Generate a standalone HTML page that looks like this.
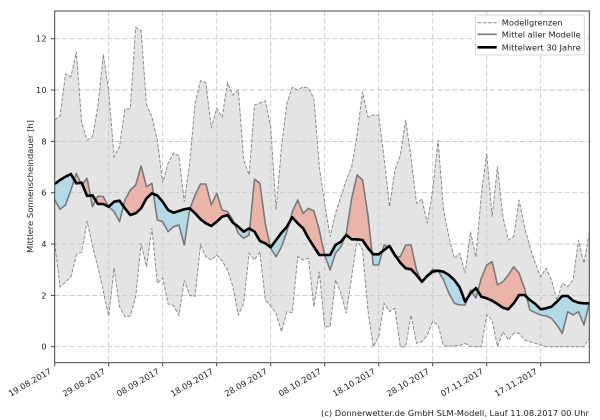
<!DOCTYPE html>
<html><head><meta charset="utf-8">
<style>
html,body{margin:0;padding:0;background:#fff;}
svg{display:block;}
text{font-family:"DejaVu Sans","Liberation Sans",sans-serif;fill:#222;}
</style></head>
<body>
<svg width="600" height="420" viewBox="0 0 600 420" xmlns="http://www.w3.org/2000/svg">
<defs>
<clipPath id="aboveL"><polygon points="54.7,243 60.1,287 65.5,282 70.9,277 76.3,255 81.7,252 87.1,221 92.5,246 97.9,267 103.3,291 108.7,316 114.1,268 119.5,306.7 124.9,316.7 130.3,316 135.7,297 141.1,243.3 146.5,266.7 151.9,228 157.3,283.3 162.7,278 168.1,304 173.5,305.5 178.9,315.5 184.3,280.3 189.7,295.5 195.1,296.3 200.5,245 205.9,256.7 211.3,260 216.7,255 222.1,260.7 227.5,270 232.9,286.7 238.3,315 243.7,303.3 249.1,253.3 254.5,260 259.9,251.7 265.3,300 270.7,306 276.1,313.3 281.5,331.7 286.9,311.7 292.3,312.7 297.7,256.7 303.1,260 308.5,258.3 313.9,306.7 319.3,271.7 324.7,326.7 330.1,326.7 335.5,280 340.9,293.3 346.3,313.3 351.7,276.7 357.1,240 362.5,250 367.9,310 373.3,346.7 378.7,336.7 384.1,303.3 389.5,311.7 394.9,308.3 400.3,346.7 405.7,346.7 411.1,315 416.5,343.3 421.9,341.7 427.3,335 432.7,321.7 438.1,325 443.5,346 448.9,346 454.3,346 459.7,345.5 465.1,343.3 470.5,346.5 475.9,346.7 481.3,346.7 486.7,315 492.1,320 497.5,346.7 502.9,331.7 508.3,340 513.7,333.3 519.1,333.3 524.5,340 529.9,341.7 535.3,343.3 540.7,345 546.1,346.7 551.5,346.7 556.9,346.7 562.3,346.7 567.7,346.7 573.1,346.7 578.5,346.7 583.9,346.7 589.3,338.3 589.3,0 54.7,0"/></clipPath>
<clipPath id="aboveB"><polygon points="54.7,184 60.1,180 65.5,176.7 70.9,174 76.3,183.3 81.7,182.7 87.1,196 92.5,195.3 97.9,204 103.3,204 108.7,206.7 114.1,201.7 119.5,200.7 124.9,208.3 130.3,215 135.7,213.3 141.1,208.3 146.5,198.3 151.9,193.3 157.3,195.5 162.7,201.7 168.1,210 173.5,212.7 178.9,211 184.3,209.3 189.7,208.3 195.1,213.3 200.5,219.3 205.9,223.3 211.3,226 216.7,221.7 222.1,216.7 227.5,215 232.9,222.7 238.3,226.7 243.7,231.7 249.1,228.3 254.5,231.7 259.9,241 265.3,243.3 270.7,247.3 276.1,240 281.5,232.7 286.9,226.7 292.3,217.3 297.7,223.3 303.1,228.3 308.5,238.3 313.9,246.7 319.3,255 324.7,255 330.1,255 335.5,245 340.9,241.7 346.3,235 351.7,239.3 357.1,239.3 362.5,240 367.9,248 373.3,254.3 378.7,254.3 384.1,250 389.5,246 394.9,255 400.3,262.7 405.7,268.3 411.1,269.3 416.5,275 421.9,281.7 427.3,276 432.7,271.7 438.1,270.7 443.5,271.7 448.9,275 454.3,280 459.7,287.3 465.1,301.7 470.5,293.3 475.9,288 481.3,296.7 486.7,298.3 492.1,300.7 497.5,304 502.9,307.7 508.3,309.3 513.7,303.3 519.1,295 524.5,295 529.9,300 535.3,304 540.7,309.3 546.1,308.3 551.5,306.7 556.9,301.7 562.3,296 567.7,296 573.1,300.7 578.5,302.7 583.9,303.3 589.3,303.3 589.3,0 54.7,0"/></clipPath>
<clipPath id="belowB"><polygon points="54.7,184 60.1,180 65.5,176.7 70.9,174 76.3,183.3 81.7,182.7 87.1,196 92.5,195.3 97.9,204 103.3,204 108.7,206.7 114.1,201.7 119.5,200.7 124.9,208.3 130.3,215 135.7,213.3 141.1,208.3 146.5,198.3 151.9,193.3 157.3,195.5 162.7,201.7 168.1,210 173.5,212.7 178.9,211 184.3,209.3 189.7,208.3 195.1,213.3 200.5,219.3 205.9,223.3 211.3,226 216.7,221.7 222.1,216.7 227.5,215 232.9,222.7 238.3,226.7 243.7,231.7 249.1,228.3 254.5,231.7 259.9,241 265.3,243.3 270.7,247.3 276.1,240 281.5,232.7 286.9,226.7 292.3,217.3 297.7,223.3 303.1,228.3 308.5,238.3 313.9,246.7 319.3,255 324.7,255 330.1,255 335.5,245 340.9,241.7 346.3,235 351.7,239.3 357.1,239.3 362.5,240 367.9,248 373.3,254.3 378.7,254.3 384.1,250 389.5,246 394.9,255 400.3,262.7 405.7,268.3 411.1,269.3 416.5,275 421.9,281.7 427.3,276 432.7,271.7 438.1,270.7 443.5,271.7 448.9,275 454.3,280 459.7,287.3 465.1,301.7 470.5,293.3 475.9,288 481.3,296.7 486.7,298.3 492.1,300.7 497.5,304 502.9,307.7 508.3,309.3 513.7,303.3 519.1,295 524.5,295 529.9,300 535.3,304 540.7,309.3 546.1,308.3 551.5,306.7 556.9,301.7 562.3,296 567.7,296 573.1,300.7 578.5,302.7 583.9,303.3 589.3,303.3 589.3,420 54.7,420"/></clipPath>
</defs>

<polygon clip-path="url(#aboveL)" fill="#e4e4e4" points="54.7,120 60.1,116 65.5,74 70.9,76.7 76.3,51.7 81.7,123 87.1,140 92.5,136.7 97.9,106.7 103.3,54.3 108.7,91.7 114.1,156.7 119.5,146.7 124.9,109 130.3,108.7 135.7,27.5 141.1,30.7 146.5,105 151.9,116.7 157.3,140 162.7,183 168.1,163 173.5,153 178.9,156 184.3,201.7 189.7,163.3 195.1,103.3 200.5,80.7 205.9,82.7 211.3,128.3 216.7,108.3 222.1,117.3 227.5,82.7 232.9,95 238.3,90 243.7,160 249.1,175 254.5,105 259.9,103 265.3,100.7 270.7,126.7 276.1,210 281.5,146.7 286.9,103.3 292.3,87.3 297.7,90 303.1,86.7 308.5,88.3 313.9,98.3 319.3,166.7 324.7,203.3 330.1,236.7 335.5,213.3 340.9,196.7 346.3,180 351.7,166.7 357.1,135 362.5,91.7 367.9,117 373.3,115 378.7,115 384.1,158.3 389.5,206.7 394.9,170 400.3,155 405.7,120 411.1,158.3 416.5,203.3 421.9,199 427.3,223.3 432.7,190 438.1,140 443.5,210 448.9,236.7 454.3,258.3 459.7,253.3 465.1,273.3 470.5,231.7 475.9,257 481.3,195 486.7,153.3 492.1,216.7 497.5,166.7 502.9,216.7 508.3,240 513.7,236.7 519.1,200 524.5,226.7 529.9,246.7 535.3,263.3 540.7,276.7 546.1,268.3 551.5,280 556.9,300 562.3,283.3 567.7,286.7 573.1,280 578.5,240 583.9,263.3 589.3,233.3 589.3,420 54.7,420"/>

<g stroke="#c8c8c8" stroke-width="0.9" stroke-dasharray="5,2.5" fill="none">
<line x1="54.7" y1="346.7" x2="589.3" y2="346.7"/>
<line x1="54.7" y1="295.4" x2="589.3" y2="295.4"/>
<line x1="54.7" y1="244.0" x2="589.3" y2="244.0"/>
<line x1="54.7" y1="192.7" x2="589.3" y2="192.7"/>
<line x1="54.7" y1="141.4" x2="589.3" y2="141.4"/>
<line x1="54.7" y1="90.0" x2="589.3" y2="90.0"/>
<line x1="54.7" y1="38.7" x2="589.3" y2="38.7"/>
<line x1="108.7" y1="11" x2="108.7" y2="362.7"/>
<line x1="162.7" y1="11" x2="162.7" y2="362.7"/>
<line x1="216.7" y1="11" x2="216.7" y2="362.7"/>
<line x1="270.7" y1="11" x2="270.7" y2="362.7"/>
<line x1="324.7" y1="11" x2="324.7" y2="362.7"/>
<line x1="378.7" y1="11" x2="378.7" y2="362.7"/>
<line x1="432.7" y1="11" x2="432.7" y2="362.7"/>
<line x1="486.7" y1="11" x2="486.7" y2="362.7"/>
<line x1="540.7" y1="11" x2="540.7" y2="362.7"/>
</g>

<polygon clip-path="url(#aboveB)" fill="#eab4a8" points="54.7,200 60.1,209.3 65.5,205 70.9,190 76.3,173.3 81.7,185 87.1,178.3 92.5,206.7 97.9,196 103.3,196.7 108.7,206.7 114.1,211.7 119.5,221.7 124.9,200 130.3,190 135.7,185 141.1,166 146.5,186.7 151.9,183.3 157.3,220 162.7,221.7 168.1,231.7 173.5,226.7 178.9,225 184.3,245 189.7,209.3 195.1,195 200.5,184 205.9,184 211.3,205 216.7,193.3 222.1,210 227.5,211.7 232.9,220 238.3,233.3 243.7,238.3 249.1,235 254.5,179.3 259.9,183.3 265.3,224 270.7,248.3 276.1,256.7 281.5,246.7 286.9,231.7 292.3,211.7 297.7,200 303.1,213.3 308.5,208.3 313.9,211 319.3,230 324.7,255 330.1,270 335.5,253.3 340.9,246.7 346.3,233.3 351.7,198.3 357.1,175 362.5,180 367.9,215 373.3,265 378.7,265 384.1,245 389.5,247.3 394.9,256.7 400.3,256.7 405.7,245 411.1,245 416.5,270 421.9,282.7 427.3,275 432.7,269.3 438.1,270.7 443.5,280 448.9,293.3 454.3,303.3 459.7,305 465.1,305 470.5,290 475.9,298 481.3,278.3 486.7,265 492.1,261.7 497.5,285 502.9,281.7 508.3,275 513.7,266.7 519.1,273.3 524.5,288.3 529.9,310 535.3,312.7 540.7,315 546.1,316 551.5,318.3 556.9,325 562.3,333.3 567.7,311.7 573.1,315 578.5,311.7 583.9,325 589.3,303.3 589.3,420 54.7,420"/>
<polygon clip-path="url(#belowB)" fill="#b4dae8" points="54.7,200 60.1,209.3 65.5,205 70.9,190 76.3,173.3 81.7,185 87.1,178.3 92.5,206.7 97.9,196 103.3,196.7 108.7,206.7 114.1,211.7 119.5,221.7 124.9,200 130.3,190 135.7,185 141.1,166 146.5,186.7 151.9,183.3 157.3,220 162.7,221.7 168.1,231.7 173.5,226.7 178.9,225 184.3,245 189.7,209.3 195.1,195 200.5,184 205.9,184 211.3,205 216.7,193.3 222.1,210 227.5,211.7 232.9,220 238.3,233.3 243.7,238.3 249.1,235 254.5,179.3 259.9,183.3 265.3,224 270.7,248.3 276.1,256.7 281.5,246.7 286.9,231.7 292.3,211.7 297.7,200 303.1,213.3 308.5,208.3 313.9,211 319.3,230 324.7,255 330.1,270 335.5,253.3 340.9,246.7 346.3,233.3 351.7,198.3 357.1,175 362.5,180 367.9,215 373.3,265 378.7,265 384.1,245 389.5,247.3 394.9,256.7 400.3,256.7 405.7,245 411.1,245 416.5,270 421.9,282.7 427.3,275 432.7,269.3 438.1,270.7 443.5,280 448.9,293.3 454.3,303.3 459.7,305 465.1,305 470.5,290 475.9,298 481.3,278.3 486.7,265 492.1,261.7 497.5,285 502.9,281.7 508.3,275 513.7,266.7 519.1,273.3 524.5,288.3 529.9,310 535.3,312.7 540.7,315 546.1,316 551.5,318.3 556.9,325 562.3,333.3 567.7,311.7 573.1,315 578.5,311.7 583.9,325 589.3,303.3 589.3,0 54.7,0"/>

<g fill="none" stroke="#8c8c8c" stroke-width="1" stroke-dasharray="3.7,1.6">
<polyline points="54.7,120 60.1,116 65.5,74 70.9,76.7 76.3,51.7 81.7,123 87.1,140 92.5,136.7 97.9,106.7 103.3,54.3 108.7,91.7 114.1,156.7 119.5,146.7 124.9,109 130.3,108.7 135.7,27.5 141.1,30.7 146.5,105 151.9,116.7 157.3,140 162.7,183 168.1,163 173.5,153 178.9,156 184.3,201.7 189.7,163.3 195.1,103.3 200.5,80.7 205.9,82.7 211.3,128.3 216.7,108.3 222.1,117.3 227.5,82.7 232.9,95 238.3,90 243.7,160 249.1,175 254.5,105 259.9,103 265.3,100.7 270.7,126.7 276.1,210 281.5,146.7 286.9,103.3 292.3,87.3 297.7,90 303.1,86.7 308.5,88.3 313.9,98.3 319.3,166.7 324.7,203.3 330.1,236.7 335.5,213.3 340.9,196.7 346.3,180 351.7,166.7 357.1,135 362.5,91.7 367.9,117 373.3,115 378.7,115 384.1,158.3 389.5,206.7 394.9,170 400.3,155 405.7,120 411.1,158.3 416.5,203.3 421.9,199 427.3,223.3 432.7,190 438.1,140 443.5,210 448.9,236.7 454.3,258.3 459.7,253.3 465.1,273.3 470.5,231.7 475.9,257 481.3,195 486.7,153.3 492.1,216.7 497.5,166.7 502.9,216.7 508.3,240 513.7,236.7 519.1,200 524.5,226.7 529.9,246.7 535.3,263.3 540.7,276.7 546.1,268.3 551.5,280 556.9,300 562.3,283.3 567.7,286.7 573.1,280 578.5,240 583.9,263.3 589.3,233.3"/>
<polyline points="54.7,243 60.1,287 65.5,282 70.9,277 76.3,255 81.7,252 87.1,221 92.5,246 97.9,267 103.3,291 108.7,316 114.1,268 119.5,306.7 124.9,316.7 130.3,316 135.7,297 141.1,243.3 146.5,266.7 151.9,228 157.3,283.3 162.7,278 168.1,304 173.5,305.5 178.9,315.5 184.3,280.3 189.7,295.5 195.1,296.3 200.5,245 205.9,256.7 211.3,260 216.7,255 222.1,260.7 227.5,270 232.9,286.7 238.3,315 243.7,303.3 249.1,253.3 254.5,260 259.9,251.7 265.3,300 270.7,306 276.1,313.3 281.5,331.7 286.9,311.7 292.3,312.7 297.7,256.7 303.1,260 308.5,258.3 313.9,306.7 319.3,271.7 324.7,326.7 330.1,326.7 335.5,280 340.9,293.3 346.3,313.3 351.7,276.7 357.1,240 362.5,250 367.9,310 373.3,346.7 378.7,336.7 384.1,303.3 389.5,311.7 394.9,308.3 400.3,346.7 405.7,346.7 411.1,315 416.5,343.3 421.9,341.7 427.3,335 432.7,321.7 438.1,325 443.5,346 448.9,346 454.3,346 459.7,345.5 465.1,343.3 470.5,346.5 475.9,346.7 481.3,346.7 486.7,315 492.1,320 497.5,346.7 502.9,331.7 508.3,340 513.7,333.3 519.1,333.3 524.5,340 529.9,341.7 535.3,343.3 540.7,345 546.1,346.7 551.5,346.7 556.9,346.7 562.3,346.7 567.7,346.7 573.1,346.7 578.5,346.7 583.9,346.7 589.3,338.3"/>
</g>

<polyline fill="none" stroke="#7a7a7a" stroke-width="1.6" stroke-linejoin="round" points="54.7,200 60.1,209.3 65.5,205 70.9,190 76.3,173.3 81.7,185 87.1,178.3 92.5,206.7 97.9,196 103.3,196.7 108.7,206.7 114.1,211.7 119.5,221.7 124.9,200 130.3,190 135.7,185 141.1,166 146.5,186.7 151.9,183.3 157.3,220 162.7,221.7 168.1,231.7 173.5,226.7 178.9,225 184.3,245 189.7,209.3 195.1,195 200.5,184 205.9,184 211.3,205 216.7,193.3 222.1,210 227.5,211.7 232.9,220 238.3,233.3 243.7,238.3 249.1,235 254.5,179.3 259.9,183.3 265.3,224 270.7,248.3 276.1,256.7 281.5,246.7 286.9,231.7 292.3,211.7 297.7,200 303.1,213.3 308.5,208.3 313.9,211 319.3,230 324.7,255 330.1,270 335.5,253.3 340.9,246.7 346.3,233.3 351.7,198.3 357.1,175 362.5,180 367.9,215 373.3,265 378.7,265 384.1,245 389.5,247.3 394.9,256.7 400.3,256.7 405.7,245 411.1,245 416.5,270 421.9,282.7 427.3,275 432.7,269.3 438.1,270.7 443.5,280 448.9,293.3 454.3,303.3 459.7,305 465.1,305 470.5,290 475.9,298 481.3,278.3 486.7,265 492.1,261.7 497.5,285 502.9,281.7 508.3,275 513.7,266.7 519.1,273.3 524.5,288.3 529.9,310 535.3,312.7 540.7,315 546.1,316 551.5,318.3 556.9,325 562.3,333.3 567.7,311.7 573.1,315 578.5,311.7 583.9,325 589.3,303.3"/>

<polyline fill="none" stroke="#000" stroke-width="2.6" stroke-linejoin="round" points="54.7,184 60.1,180 65.5,176.7 70.9,174 76.3,183.3 81.7,182.7 87.1,196 92.5,195.3 97.9,204 103.3,204 108.7,206.7 114.1,201.7 119.5,200.7 124.9,208.3 130.3,215 135.7,213.3 141.1,208.3 146.5,198.3 151.9,193.3 157.3,195.5 162.7,201.7 168.1,210 173.5,212.7 178.9,211 184.3,209.3 189.7,208.3 195.1,213.3 200.5,219.3 205.9,223.3 211.3,226 216.7,221.7 222.1,216.7 227.5,215 232.9,222.7 238.3,226.7 243.7,231.7 249.1,228.3 254.5,231.7 259.9,241 265.3,243.3 270.7,247.3 276.1,240 281.5,232.7 286.9,226.7 292.3,217.3 297.7,223.3 303.1,228.3 308.5,238.3 313.9,246.7 319.3,255 324.7,255 330.1,255 335.5,245 340.9,241.7 346.3,235 351.7,239.3 357.1,239.3 362.5,240 367.9,248 373.3,254.3 378.7,254.3 384.1,250 389.5,246 394.9,255 400.3,262.7 405.7,268.3 411.1,269.3 416.5,275 421.9,281.7 427.3,276 432.7,271.7 438.1,270.7 443.5,271.7 448.9,275 454.3,280 459.7,287.3 465.1,301.7 470.5,293.3 475.9,288 481.3,296.7 486.7,298.3 492.1,300.7 497.5,304 502.9,307.7 508.3,309.3 513.7,303.3 519.1,295 524.5,295 529.9,300 535.3,304 540.7,309.3 546.1,308.3 551.5,306.7 556.9,301.7 562.3,296 567.7,296 573.1,300.7 578.5,302.7 583.9,303.3 589.3,303.3"/>

<rect x="54.7" y="11" width="534.6" height="351.7" fill="none" stroke="#444" stroke-width="1"/>

<g stroke="#444" stroke-width="1">
<line x1="51" y1="346.7" x2="54.7" y2="346.7"/>
<line x1="51" y1="295.4" x2="54.7" y2="295.4"/>
<line x1="51" y1="244.0" x2="54.7" y2="244.0"/>
<line x1="51" y1="192.7" x2="54.7" y2="192.7"/>
<line x1="51" y1="141.4" x2="54.7" y2="141.4"/>
<line x1="51" y1="90.0" x2="54.7" y2="90.0"/>
<line x1="51" y1="38.7" x2="54.7" y2="38.7"/>
<line x1="54.7" y1="362.7" x2="54.7" y2="366.4"/>
<line x1="108.7" y1="362.7" x2="108.7" y2="366.4"/>
<line x1="162.7" y1="362.7" x2="162.7" y2="366.4"/>
<line x1="216.7" y1="362.7" x2="216.7" y2="366.4"/>
<line x1="270.7" y1="362.7" x2="270.7" y2="366.4"/>
<line x1="324.7" y1="362.7" x2="324.7" y2="366.4"/>
<line x1="378.7" y1="362.7" x2="378.7" y2="366.4"/>
<line x1="432.7" y1="362.7" x2="432.7" y2="366.4"/>
<line x1="486.7" y1="362.7" x2="486.7" y2="366.4"/>
<line x1="540.7" y1="362.7" x2="540.7" y2="366.4"/>
</g>
<g font-size="8.33" text-anchor="end">
<text x="46.5" y="349.7">0</text>
<text x="46.5" y="298.4">2</text>
<text x="46.5" y="247">4</text>
<text x="46.5" y="195.7">6</text>
<text x="46.5" y="144.4">8</text>
<text x="46.5" y="93">10</text>
<text x="46.5" y="41.7">12</text>
</g>

<g font-size="8.33" text-anchor="end">
<text transform="translate(52,373) rotate(-30)">19.08.2017</text>
<text transform="translate(106,373) rotate(-30)">29.08.2017</text>
<text transform="translate(160,373) rotate(-30)">08.09.2017</text>
<text transform="translate(214,373) rotate(-30)">18.09.2017</text>
<text transform="translate(268,373) rotate(-30)">28.09.2017</text>
<text transform="translate(322,373) rotate(-30)">08.10.2017</text>
<text transform="translate(376,373) rotate(-30)">18.10.2017</text>
<text transform="translate(430,373) rotate(-30)">28.10.2017</text>
<text transform="translate(484,373) rotate(-30)">07.11.2017</text>
<text transform="translate(538,373) rotate(-30)">17.11.2017</text>
</g>

<text transform="translate(33,186.5) rotate(-90)" font-size="8.33" text-anchor="middle" textLength="133" lengthAdjust="spacingAndGlyphs">Mittlere Sonnenscheindauer [h]</text>

<rect x="475.3" y="15" width="109" height="40" rx="2" fill="#fff" fill-opacity="0.85" stroke="#cccccc" stroke-width="0.8"/>
<line x1="477.5" y1="22.7" x2="496.7" y2="22.7" stroke="#8c8c8c" stroke-width="1" stroke-dasharray="3.7,1.6"/>
<line x1="477.5" y1="34.3" x2="496.7" y2="34.3" stroke="#7a7a7a" stroke-width="1.6"/>
<line x1="477.5" y1="47.3" x2="496.7" y2="47.3" stroke="#000" stroke-width="2.6"/>
<g font-size="8.33">
<text x="501.7" y="25.7" textLength="61" lengthAdjust="spacingAndGlyphs">Modellgrenzen</text>
<text x="501.7" y="37.3" textLength="79" lengthAdjust="spacingAndGlyphs">Mittel aller Modelle</text>
<text x="501.7" y="50.3" textLength="79" lengthAdjust="spacingAndGlyphs">Mittelwert 30 Jahre</text>
</g>

<text x="321" y="416" font-size="8.33" textLength="268" lengthAdjust="spacingAndGlyphs">(c) Donnerwetter.de GmbH SLM-Modell, Lauf 11.08.2017 00 Uhr</text>
</svg>
</body></html>
